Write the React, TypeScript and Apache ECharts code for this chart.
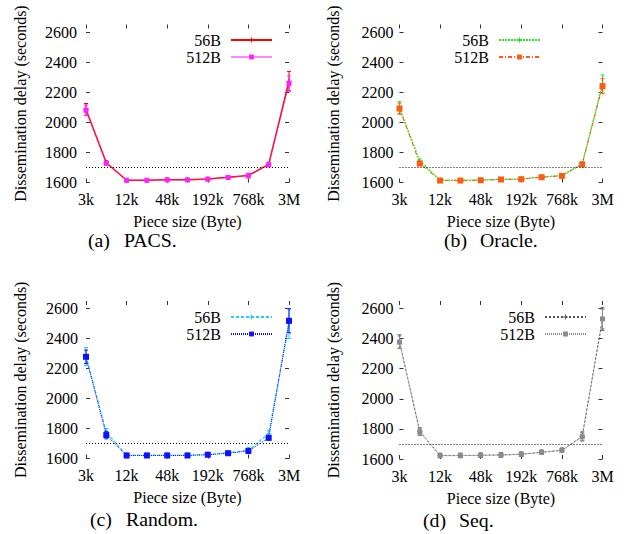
import React, { useEffect, useRef } from "react";
import * as echarts from "echarts";

// ---------------- data ----------------
const categories = ["3k", "6k", "12k", "24k", "48k", "96k", "192k", "384k", "768k", "1.5M", "3M"];
const yTicks = [1600, 1800, 2000, 2200, 2400, 2600];
const yMin = 1600;
const yMax = 2650;
const threshold = 1700;
const seriesLabels = ["56B", "512B"];
const panelKeys = ["PACS", "Oracle", "Random", "Seq"];
const captionTags = ["(a)", "(b)", "(c)", "(d)"];
const captionNames = ["PACS.", "Oracle.", "Random.", "Seq."];

const pacs56 = [2085, 1731, 1615, 1615, 1618, 1618, 1624, 1635, 1647, 1720, 2273];
const pacs56Err = [40, 13, 10, 10, 10, 10, 10, 10, 14, 14, 65];
const pacs512 = [2080, 1728, 1615, 1615, 1617, 1617, 1622, 1633, 1645, 1718, 2258];
const pacs512Err = [35, 12, 10, 10, 10, 10, 10, 10, 14, 14, 50];

const oracle56 = [2095, 1742, 1616, 1615, 1617, 1621, 1623, 1637, 1646, 1724, 2255];
const oracle56Err = [42, 14, 10, 10, 10, 10, 10, 10, 12, 14, 60];
const oracle512 = [2092, 1726, 1613, 1613, 1615, 1620, 1622, 1635, 1644, 1720, 2240];
const oracle512Err = [35, 14, 10, 10, 10, 10, 10, 10, 12, 14, 50];

const random56 = [2280, 1775, 1622, 1622, 1623, 1623, 1627, 1638, 1655, 1765, 2500];
const random56Err = [60, 25, 15, 15, 15, 15, 15, 15, 18, 20, 100];
const random512 = [2278, 1756, 1620, 1620, 1620, 1620, 1625, 1635, 1650, 1738, 2518];
const random512Err = [45, 25, 12, 12, 12, 12, 12, 12, 15, 15, 80];

const seq56 = [2380, 1782, 1624, 1624, 1625, 1627, 1632, 1645, 1658, 1750, 2530];
const seq56Err = [45, 25, 15, 15, 15, 15, 15, 15, 15, 30, 75];
const seq512 = [2377, 1780, 1622, 1622, 1624, 1626, 1631, 1644, 1657, 1748, 2531];
const seq512Err = [40, 22, 12, 12, 12, 12, 12, 12, 12, 25, 65];

// ---------------- styling / layout ----------------
const FONT = "Liberation Serif";

const panelValues = [
  [[pacs56, pacs56Err], [pacs512, pacs512Err]],
  [[oracle56, oracle56Err], [oracle512, oracle512Err]],
  [[random56, random56Err], [random512, random512Err]],
  [[seq56, seq56Err], [seq512, seq512Err]],
];

const panelStyles = [
  [
    { color: "#ff0000", type: "solid", width: 1.5, size: 5, opacity: 1 },
    { color: "#ff22ff", type: "solid", width: 0.8, size: 5, opacity: 0.55 },
  ],
  [
    { color: "#22ee22", type: [2, 1], width: 1.3, size: 5, opacity: 1 },
    { color: "#ff5a10", type: [4, 2, 1, 2], width: 1, size: 6, opacity: 1 },
  ],
  [
    { color: "#22ccff", type: [3, 2], width: 1.3, size: 5, opacity: 1 },
    { color: "#1010ff", type: [1, 1], width: 1, size: 6, opacity: 1 },
  ],
  [
    { color: "#555555", type: [2, 2], width: 1, size: 5, opacity: 1 },
    { color: "#8a8a8a", type: [1, 1], width: 1, size: 5, opacity: 1 },
  ],
];

const grids = [
  { left: 86, top: 24.5, width: 203, height: 158 },
  { left: 399.5, top: 24.5, width: 203, height: 158 },
  { left: 86, top: 301, width: 203, height: 157.5 },
  { left: 399.5, top: 301, width: 203, height: 158 },
];
const yLabelMargin = [9, 6, 8, 6];
const legendPos = [
  { right: 358, top: 32 },
  { right: 90, top: 32 },
  { right: 358, top: 309 },
  { right: 44, top: 309 },
];
const captionPos = [
  { x: 88, y: 241 },
  { x: 444, y: 241 },
  { x: 90, y: 520 },
  { x: 423, y: 521 },
];

const plusPath = "path://M2,0H3V2H5V3H3V5H2V3H0V2H2Z";

function buildOption() {
  const xAxis: any[] = [];
  const yAxis: any[] = [];
  const series: any[] = [];
  const legend: any[] = [];
  const graphic: any[] = [];
  const tickStyle = { color: "#333", width: 1 };
  const txt = { fontFamily: FONT, fontSize: 16, color: "#000" };

  grids.forEach((g, i) => {
    xAxis.push({
      type: "category",
      gridIndex: i,
      data: categories,
      boundaryGap: false,
      position: "bottom",
      axisLine: { show: false },
      axisTick: { show: true, inside: true, length: 4, interval: 1, lineStyle: tickStyle },
      axisLabel: { interval: 1, margin: 9, ...txt },
      splitLine: { show: false },
      name: "Piece size (Byte)",
      nameLocation: "middle",
      nameGap: 31,
      nameTextStyle: { ...txt },
    });
    xAxis.push({
      type: "category",
      gridIndex: i,
      data: categories,
      boundaryGap: false,
      position: "top",
      axisLine: { show: false },
      axisTick: { show: true, inside: true, length: 4, interval: 1, lineStyle: tickStyle },
      axisLabel: { show: false },
      splitLine: { show: false },
    });
    yAxis.push({
      type: "value",
      gridIndex: i,
      min: yMin,
      max: yMax,
      interval: 200,
      position: "left",
      axisLine: { show: false },
      axisTick: { show: true, inside: true, length: 4, lineStyle: tickStyle, customValues: yTicks },
      axisLabel: {
        margin: yLabelMargin[i],
        ...txt,
        customValues: yTicks,
        formatter: (v: number) => String(v),
      },
      splitLine: { show: false },
      name: "Dissemination delay (seconds)",
      nameLocation: "middle",
      nameGap: 58,
      nameTextStyle: { ...txt },
    });
    yAxis.push({
      type: "value",
      gridIndex: i,
      min: yMin,
      max: yMax,
      interval: 200,
      position: "right",
      axisLine: { show: false },
      axisTick: { show: true, inside: true, length: 4, lineStyle: tickStyle, customValues: yTicks },
      axisLabel: { show: false },
      splitLine: { show: false },
    });

    const names = seriesLabels.map((l) => panelKeys[i] + "|" + l);
    panelValues[i].forEach(([vals, errs], s) => {
      const st = panelStyles[i][s];
      series.push({
        type: "line",
        name: names[s],
        xAxisIndex: i * 2,
        yAxisIndex: i * 2,
        data: vals,
        z: 3 + s,
        symbol: s === 0 ? plusPath : "rect",
        symbolSize: st.size,
        showSymbol: true,
        lineStyle: { color: st.color, type: st.type, width: st.width, opacity: st.opacity },
        itemStyle: { color: st.color },
        emphasis: { disabled: true },
        markLine:
          s === 0
            ? {
                silent: true,
                symbol: ["none", "none"],
                label: { show: false },
                lineStyle: { color: "#000", type: [1, 2], width: 1, opacity: 1 },
                data: [{ yAxis: threshold }],
              }
            : undefined,
      });
      series.push({
        type: "custom",
        name: names[s] + "|err",
        xAxisIndex: i * 2,
        yAxisIndex: i * 2,
        z: 3 + s,
        data: vals.map((v, k) => [k, v - errs[k], v + errs[k]]),
        encode: { x: 0, y: [1, 2] },
        renderItem: (params: any, api: any) => {
          const x = api.value(0);
          const p1 = api.coord([x, api.value(1)]);
          const p2 = api.coord([x, api.value(2)]);
          const w = 2;
          const style = { stroke: st.color, lineWidth: 1 };
          return {
            type: "group",
            children: [
              { type: "line", shape: { x1: p1[0], y1: p1[1], x2: p2[0], y2: p2[1] }, style },
              { type: "line", shape: { x1: p1[0] - w, y1: p1[1], x2: p1[0] + w, y2: p1[1] }, style },
              { type: "line", shape: { x1: p2[0] - w, y1: p2[1], x2: p2[0] + w, y2: p2[1] }, style },
            ],
          };
        },
      });
    });

    legend.push({
      data: names,
      formatter: (n: string) => n.split("|")[1],
      orient: "vertical",
      align: "right",
      right: legendPos[i].right,
      top: legendPos[i].top,
      padding: 0,
      itemWidth: 41,
      itemHeight: 6,
      itemGap: 1,
      selectedMode: false,
      textStyle: { ...txt, lineHeight: 16, padding: [0, 5, 0, 0] },
    });

    graphic.push({
      type: "text",
      x: captionPos[i].x,
      y: captionPos[i].y,
      scaleX: 1.1,
      style: { text: captionTags[i], fontFamily: FONT, fontSize: 18, fill: "#000", verticalAlign: "middle" },
    });
    graphic.push({
      type: "text",
      x: captionPos[i].x + 36,
      y: captionPos[i].y,
      scaleX: 1.1,
      style: { text: captionNames[i], fontFamily: FONT, fontSize: 18, fill: "#000", verticalAlign: "middle" },
    });
  });

  return {
    animation: false,
    backgroundColor: "#fff",
    textStyle: { fontFamily: FONT, fontSize: 16, color: "#000" },
    grid: grids.map((g) => ({ ...g, containLabel: false })),
    xAxis,
    yAxis,
    legend,
    series,
    graphic,
  };
}

export default function App() {
  const ref = useRef<HTMLDivElement>(null);
  useEffect(() => {
    if (!ref.current) return;
    const chart = echarts.init(ref.current, undefined, { renderer: "svg" });
    chart.setOption(buildOption() as any);
    return () => chart.dispose();
  }, []);
  return (
    <div
      ref={ref}
      style={{ position: "fixed", left: 0, top: 0, width: 631, height: 534, background: "#fff" }}
    />
  );
}
